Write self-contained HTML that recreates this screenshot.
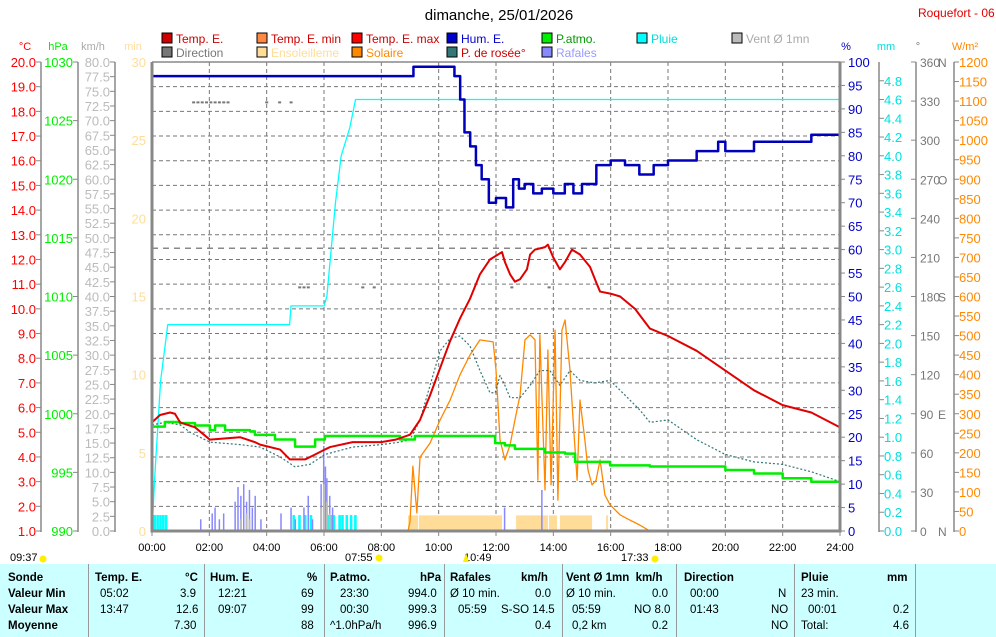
<!DOCTYPE html>
<html><head><meta charset="utf-8">
<style>
body{margin:0;background:#fff;width:996px;height:637px;overflow:hidden;font-family:"Liberation Sans",sans-serif}
svg{position:absolute;left:0;top:0}
#tbl{position:absolute;left:0;top:564px;width:996px;height:73px;background:#ccffff;font-size:11.5px;font-weight:bold;color:#000}
#tbl div{position:absolute;white-space:nowrap}
.sep{width:1px;height:73px;background:#999;top:0}
.n{font-weight:normal}
</style></head><body>
<svg id="c" width="996" height="564" xmlns="http://www.w3.org/2000/svg" font-family="Liberation Sans, sans-serif" font-size="12"></svg>
<div id="tbl">
<div class="sep" style="left:88px"></div>
<div class="sep" style="left:204px"></div>
<div class="sep" style="left:324px"></div>
<div class="sep" style="left:444px"></div>
<div class="sep" style="left:562px"></div>
<div class="sep" style="left:676px"></div>
<div class="sep" style="left:794px"></div>
<div class="sep" style="left:915px"></div>
<div style="left:8px;top:8px">Sonde</div>
<div style="left:8px;top:24px">Valeur Min</div>
<div style="left:8px;top:40px">Valeur Max</div>
<div style="left:8px;top:56px">Moyenne</div>

<div style="left:95px;top:8px">Temp. E.</div><div style="left:185px;top:8px">°C</div>
<div class="n" style="left:100px;top:24px">05:02</div><div class="n" style="left:180px;top:24px">3.9</div>
<div class="n" style="left:100px;top:40px">13:47</div><div class="n" style="left:176px;top:40px">12.6</div>
<div class="n" style="left:174px;top:56px">7.30</div>

<div style="left:210px;top:8px">Hum. E.</div><div style="left:307px;top:8px">%</div>
<div class="n" style="left:218px;top:24px">12:21</div><div class="n" style="left:301px;top:24px">69</div>
<div class="n" style="left:218px;top:40px">09:07</div><div class="n" style="left:301px;top:40px">99</div>
<div class="n" style="left:301px;top:56px">88</div>

<div style="left:330px;top:8px">P.atmo.</div><div style="left:420px;top:8px">hPa</div>
<div class="n" style="left:340px;top:24px">23:30</div><div class="n" style="left:408px;top:24px">994.0</div>
<div class="n" style="left:340px;top:40px">00:30</div><div class="n" style="left:408px;top:40px">999.3</div>
<div class="n" style="left:330px;top:56px">^1.0hPa/h</div><div class="n" style="left:408px;top:56px">996.9</div>

<div style="left:450px;top:8px">Rafales</div><div style="left:521px;top:8px">km/h</div>
<div class="n" style="left:450px;top:24px">Ø 10 min.</div><div class="n" style="left:535px;top:24px">0.0</div>
<div class="n" style="left:458px;top:40px">05:59</div><div class="n" style="left:501px;top:40px">S-SO 14.5</div>
<div class="n" style="left:535px;top:56px">0.4</div>

<div style="left:566px;top:8px">Vent Ø 1mn&nbsp; km/h</div>
<div class="n" style="left:566px;top:24px">Ø 10 min.</div><div class="n" style="left:652px;top:24px">0.0</div>
<div class="n" style="left:572px;top:40px">05:59</div><div class="n" style="left:634px;top:40px">NO 8.0</div>
<div class="n" style="left:572px;top:56px">0,2 km</div><div class="n" style="left:652px;top:56px">0.2</div>

<div style="left:684px;top:8px">Direction</div>
<div class="n" style="left:690px;top:24px">00:00</div><div class="n" style="left:778px;top:24px">N</div>
<div class="n" style="left:690px;top:40px">01:43</div><div class="n" style="left:771px;top:40px">NO</div>
<div class="n" style="left:771px;top:56px">NO</div>

<div style="left:801px;top:8px">Pluie</div><div style="left:887px;top:8px">mm</div>
<div class="n" style="left:801px;top:24px">23 min.</div>
<div class="n" style="left:808px;top:40px">00:01</div><div class="n" style="left:893px;top:40px">0.2</div>
<div class="n" style="left:801px;top:56px">Total:</div><div class="n" style="left:893px;top:56px">4.6</div>
</div>
<script>
// ---- data ----
const humH=[0,9.1,9.12,10.4,10.55,10.75,10.9,11.1,11.3,11.5,11.75,12.0,12.35,12.6,12.8,13.0,13.3,13.6,14.0,14.4,14.7,15.0,15.5,16.0,16.5,17.0,17.5,18.0,19.0,19.75,20.0,20.5,21.0,22.0,23.0,24];
const humV=[97,97,99,99,97,92,85,82,78,75,70,71,69,75,73,74,72,73,72,74,72,74,78,79,78,76,78,79,81,83,81,81,83,83,84.5,85.5];
const tempH=[0,0.28,0.63,0.8,0.98,1.5,2.02,3.07,3.59,3.77,4.47,4.81,5.34,5.69,6.03,6.21,7,8,8.5,9,9.35,9.7,10.05,10.4,10.74,11.09,11.44,11.79,12.21,12.31,12.49,12.66,12.84,13.08,13.19,13.36,13.71,13.81,13.99,14.23,14.41,14.65,14.93,15.28,15.52,15.63,16.05,16.33,16.85,17.37,18,19,20,21,22,23,24];
const tempV=[5.4,5.7,5.8,5.75,5.4,5.2,4.7,4.8,4.6,4.5,4.3,3.9,3.9,4.1,4.3,4.4,4.6,4.6,4.7,4.9,5.5,6.5,7.6,8.7,9.6,10.4,11.4,12.0,12.3,11.9,11.4,11.1,11.2,11.6,12.2,12.4,12.5,12.6,12.1,11.6,11.9,12.4,12.2,11.7,11.0,10.7,10.6,10.5,10.0,9.2,8.9,8.3,7.5,6.7,6.1,5.8,5.2];
const dewH=[0,0.45,0.98,1.33,2.02,3.07,3.77,4.47,4.99,5.51,6.03,7,8,8.65,9.0,9.35,9.7,10.05,10.4,10.74,11.09,11.44,11.79,11.97,12.14,12.31,12.49,12.84,13.19,13.53,13.88,14.23,14.58,14.93,15.45,15.98,16.33,17.02,17.37,18,19,20,21,22,23,24];
const dewV=[5.3,5.4,5.3,5.0,4.6,4.5,4.4,4.0,3.6,3.7,4.1,4.4,4.5,4.6,4.7,5.5,6.9,8.3,8.8,8.9,8.5,7.5,6.6,6.6,7.3,6.9,6.4,6.4,6.9,7.5,7.5,6.9,7.5,7.1,7.0,7.1,6.7,5.9,5.4,5.5,4.7,4.1,3.8,3.7,3.4,3.0];
const pressH=[0,0.45,0.98,1.5,2.02,2.2,2.55,3.42,3.59,4.29,4.99,5.16,5.69,6.03,6.21,8.65,9.17,11.97,12.31,12.66,13.71,14.41,14.76,15.28,15.98,17.37,19,20,21,22,23,24];
const pressV=[998.9,999.3,999.2,999.0,998.6,999.0,998.6,998.5,998.2,997.8,997.2,997.2,997.8,998.1,998.1,997.8,998.1,997.5,997.3,997.0,996.7,996.6,995.9,995.9,995.6,995.5,995.5,995.2,994.9,994.5,994.2,994.0];
const rainH=[0,0.1,0.3,0.55,4.8,4.85,6.0,6.1,6.4,6.6,6.9,7.1,24];
const rainV=[0,0.6,1.6,2.2,2.2,2.4,2.4,2.5,3.5,4.0,4.3,4.6,4.6];
const solarH=[0,8.93,9.0,9.1,9.24,9.35,9.7,10.05,10.4,10.74,11.09,11.44,11.9,12.0,12.14,12.31,12.49,12.66,12.84,13.01,13.19,13.36,13.46,13.53,13.71,13.81,13.92,14.06,14.16,14.3,14.41,14.58,14.69,14.83,14.93,15.1,15.21,15.35,15.49,15.63,15.8,15.98,16.33,16.67,17.02,17.37,24];
const solarV=[0,0,23,166,46,189,225,284,335,399,450,489,484,412,233,182,220,284,348,489,502,489,130,502,105,463,118,514,79,514,540,412,284,130,335,233,156,118,130,182,92,67,41,28,15,0,0];
const sunStart=[8.93,9.31,12.7,13.85,14.23,15.84];
const sunEnd=[9.28,12.21,13.81,14.13,15.35,15.91];
const sunMin=[1,1,1,1,1,1];
const gustH=[1.7,2.1,2.2,2.35,2.5,2.9,3.0,3.1,3.2,3.3,3.4,3.5,3.6,3.8,4.5,4.85,5.0,5.3,5.45,5.6,5.9,5.99,6.05,6.1,6.2,6.3,12.3,13.6];
const gustV=[2,3,4,2,3,5,7.5,6,8,5,7,4,6,2,3,4,2,4,6,2,8,14.5,11,9,6,4,4,7];
const windH=[3.1,3.3,3.4,5.9,6.0,6.1,6.2];
const windV=[2,3,2,4,8,5,3];
const rainBarH=[0.05,0.15,0.25,0.35,0.45,4.9,5.1,5.3,5.5,6.05,6.12,6.2,6.3,6.5,6.6,6.75,6.9,7.05];
const rainBarV=[0.17,0.17,0.17,0.17,0.17,0.17,0.17,0.17,0.17,0.17,0.17,0.17,0.17,0.17,0.17,0.17,0.17,0.17];
const dirH=[1.4,1.55,1.7,1.85,2.0,2.15,2.3,2.45,2.6,3.95,4.4,4.8,5.1,5.25,5.4,7.3,7.7,12.5,13.8];
const dirV=[329,329,329,329,329,329,329,329,329,329,329,329,187,187,187,187,187,187,187];
const dirMean=[217];
const timeTicks=["00:00","02:00","04:00","06:00","08:00","10:00","12:00","14:00","16:00","18:00","20:00","22:00","24:00"];

// ---- scales ----
const L=152,R=840,T=62,B=531,H=B-T;
const X=h=>L+h*(R-L)/24;
const yT=v=>B-(v-1)/19*H, yP=v=>B-(v-990)/40*H, yK=v=>B-v/80*H, yM=v=>B-v/30*H;
const yH=v=>B-v/100*H, yR=v=>B-v/5*H, yD=v=>B-v/360*H, yS=v=>B-v/1200*H;
const svg=document.getElementById('c');
const NS='http://www.w3.org/2000/svg';
function mk(tag,at,parent){const e=document.createElementNS(NS,tag);for(const k in at)e.setAttribute(k,at[k]);(parent||svg).appendChild(e);return e;}
function txt(x,y,s,fill,anchor){const e=mk('text',{x:x,y:y,fill:fill,'text-anchor':anchor||'start'});e.textContent=s;return e;}

// title
let e=txt(499,20,'dimanche, 25/01/2026','#000','middle');e.setAttribute('font-size','15');


e=txt(918,17,'Roquefort - 06','#e00000','start');



// legend
const legN=['Temp. E.','Temp. E. min','Temp. E. max','Hum. E.','P.atmo.','Pluie','Vent Ø 1mn','Direction','Ensoleilleme','Solaire','P. de rosée°','Rafales'];
const legC=['#cc0000','#ff8844','#ff0000','#0000cc','#00ee00','#00ffff','#bbbbbb','#777777','#ffdd99','#ff8800','#337777','#8888ff'];
const legT=['#cc0000','#cc0000','#cc0000','#0000cc','#009900','#00dddd','#aaaaaa','#777777','#ffdd99','#ff8800','#cc0000','#9999ff'];
for(let i=0;i<legN.length;i++){
  const col=i<7?i:i-7,row=i<7?0:1;
  const x=162+col*95,y=33+row*14;
  const r=mk('rect',{x:x,y:y,width:10,height:10,fill:legC[i],stroke:'#000','stroke-width':1});
  
  
  const t=txt(x+14,y+10,legN[i],legT[i]);
  
  
}

// unit labels
const units=[[25,'°C','#ff0000'],[58,'hPa','#00ee00'],[93,'km/h','#aaaaaa'],[133,'min','#ffdd99'],[846,'%','#0000cc'],[886,'mm','#00e0e0'],[918,'°','#777'],[965,'W/m²','#ff8800']];
units.forEach(u=>{const t=txt(u[0],50,u[1],u[2],'middle');t.setAttribute('font-size','11');
 
 });

// grid
for(let v=2;v<20;v++){const l=mk('line',{x1:L,x2:R,y1:yT(v),y2:yT(v),stroke:'#777','stroke-dasharray':'4,3'});
 
 }
for(let i=1;i<12;i++){const l=mk('line',{x1:X(i*2),x2:X(i*2),y1:T,y2:B,stroke:'#777','stroke-dasharray':'4,3'});
 
 }
// mean direction line
e=mk('line',{x1:L,x2:R,y1:yD(dirMean[0]),y2:yD(dirMean[0]),stroke:'#888','stroke-width':1.5,'stroke-dasharray':'6,5'});



// axes
function vaxis(ax,ticks,yf,fmt,col,name,side,lx,anchor,extra,fs){
  const g=mk('g',{});
  
  
  if(ax!==null)mk('line',{x1:ax,x2:ax,y1:T,y2:B+1,stroke:'#888','stroke-width':1.5},g);
  ticks.forEach(v=>{const y=yf(v);
    if(ax!==null)mk('line',{x1:ax,x2:ax+side*5,y1:y,y2:y,stroke:'#888'},g);
    const t=mk('text',{x:lx,y:y+5,fill:col,'text-anchor':anchor,'font-size':fs||13},g);t.textContent=fmt(v);
    if(extra){const s=extra(v);if(s){const t2=mk('text',{x:938,y:y+5,fill:'#777','font-size':12},g);t2.textContent=s;}}
  });
}
const r=(a,b,s)=>{const o=[];for(let v=a;v<=b+1e-9;v+=s)o.push(+v.toFixed(3));return o;};
vaxis(41,r(1,20,1),yT,v=>v.toFixed(1),'#ff0000','temp-axis',-1,36,'end');
vaxis(78,r(990,1030,5),yP,v=>String(v),'#00ee00','pressure-axis',-1,73,'end');
vaxis(115,r(0,80,2.5),yK,v=>v.toFixed(1),'#bbbbbb','wind-axis',-1,110,'end');
vaxis(null,r(0,30,5),yM,v=>String(v),'#ffdd99','sunshine-axis',-1,146,'end');
vaxis(840,r(0,100,5),yH,v=>String(v),'#0000cc','humidity-axis',1,848,'start');
vaxis(879,r(0,4.8,0.2),yR,v=>v.toFixed(1),'#00e0e0','rain-axis',1,884,'start');
vaxis(916,r(0,360,30),yD,v=>String(v),'#777777','direction-axis',-1,920,'start',v=>({0:'N',90:'E',180:'S',270:'O',360:'N'})[v],12);
vaxis(954,r(0,1200,50),yS,v=>String(v),'#ff8800','solar-axis',1,959,'start');

// bars: sunshine
for(let i=0;i<sunStart.length;i++){const b=mk('rect',{x:X(sunStart[i]),y:yM(sunMin[i]),width:X(sunEnd[i])-X(sunStart[i]),height:B-yM(sunMin[i]),fill:'#ffdd99'});
 
 }
// rain bars
for(let i=0;i<rainBarH.length;i++){const b=mk('rect',{x:X(rainBarH[i]),y:yR(rainBarV[i]),width:2.6,height:B-yR(rainBarV[i]),fill:'#00ffff'});
 
 }
// gusts
for(let i=0;i<gustH.length;i++){const l=mk('line',{x1:X(gustH[i]),x2:X(gustH[i]),y1:B,y2:yK(gustV[i]),stroke:'#8888ff','stroke-width':1.5});
 
 }
for(let i=0;i<windH.length;i++){const l=mk('line',{x1:X(windH[i]),x2:X(windH[i]),y1:B,y2:yK(windV[i]),stroke:'#bbbbbb','stroke-width':2});
 
 }
// direction marks
for(let i=0;i<dirH.length;i++){const l=mk('line',{x1:X(dirH[i]),x2:X(dirH[i])+3,y1:yD(dirV[i]),y2:yD(dirV[i]),stroke:'#777','stroke-width':2});
 
 }

function line(hs,vs,yf,col,w,name,dash,step){
  let pts=[];for(let i=0;i<hs.length;i++){ if(step&&i>0)pts.push(X(hs[i])+','+yf(vs[i-1])); pts.push(X(hs[i])+','+yf(vs[i]));}
  const p=mk('polyline',{points:pts.join(' '),fill:'none',stroke:col,'stroke-width':w,'stroke-linejoin':'round'});
  if(dash)p.setAttribute('stroke-dasharray',dash);
  
  
}
line(solarH,solarV,yS,'#ff8800',1.3,'solar-line');
line(rainH,rainV,yR,'#00ffff',1.3,'rain-cumulative-line');
line(dewH,dewV,yT,'#337777',1.2,'dewpoint-line','2,2');
line(pressH,pressV,yP,'#00ee00',2.5,'pressure-line',null,true);
line(tempH,tempV,yT,'#e00000',2,'temperature-line');
line(humH,humV,yH,'#0000bb',2.5,'humidity-line',null,true);

// plot frame
e=mk('path',{d:`M${L},${T} V${B} H${R} V${T}`,fill:'none',stroke:'#888','stroke-width':3});


e=mk('line',{x1:L,x2:R,y1:T,y2:T,stroke:'#888','stroke-width':1.5});



// x ticks
timeTicks.forEach((s,i)=>{const x=X(i*2);
  const l=mk('line',{x1:x,x2:x,y1:B,y2:B+5,stroke:'#888'});
  
  
  const t=txt(x,551,s,'#000','middle');t.setAttribute('font-size','11');
  
  });

// sun/moon times
[[10,'09:37'],[345,'07:55'],[464,'10:49'],[621,'17:33']].forEach(a=>{const t=txt(a[0],561,a[1],'#000');t.setAttribute('font-size','11');
 
 });
[[43,559],[379,558],[655,559]].forEach(a=>{const c=mk('circle',{cx:a[0],cy:a[1],r:3.5,fill:'#ffee00'});
 
 });
e=mk('polygon',{points:'463,562 466,553 469,562',fill:'#ffee00'});


</script>
</body></html>
